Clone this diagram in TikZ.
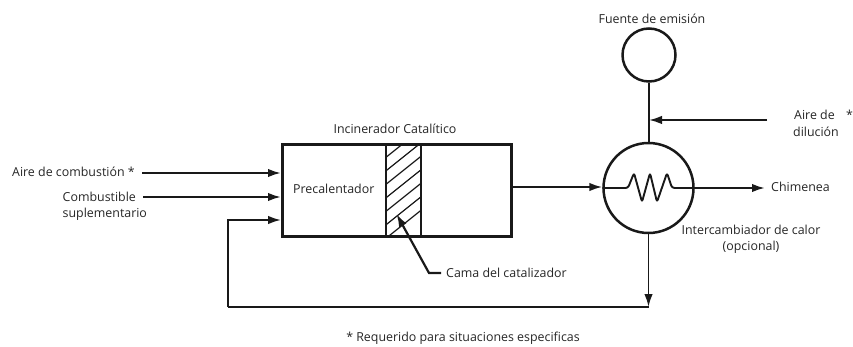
\documentclass[tikz,border=0pt]{standalone}
\usepackage{fontspec}
\setmainfont{Open Sans}
\usetikzlibrary{arrows.meta,calc}
\tikzset{
 lbl/.style={inner sep=0pt,font=\fontsize{12.4}{16}\selectfont,text=black!85,align=left},
 heavy/.style={line width=2.5pt,draw=black!90},
 flow/.style={line width=2.2pt,draw=black!90,-{Latex[length=13pt,width=8.5pt]}},
 thin flow/.style={line width=1.9pt,draw=black!90,-{Latex[length=13pt,width=8.5pt]}},
 pipe/.style={line width=1.9pt,draw=black!90},
 hatchline/.style={line width=1.2pt,draw=black!90}
}
\begin{document}
\begin{tikzpicture}[x=1pt,y=-1pt]
\useasboundingbox (0,0) rectangle (853,347);
\node[heavy,draw,rectangle,minimum width=229pt,minimum height=92pt,inner sep=0pt,anchor=north west] (box) at (281,143.5) {};
\node[circle,heavy,draw,minimum size=53pt,inner sep=0pt] (src) at (649,55) {};
\node[circle,heavy,draw,minimum size=90pt,inner sep=0pt] (hx) at (648.5,188) {};
% catalyst bed
\node[rectangle,line width=1.6pt,draw=black!90,minimum width=35pt,minimum height=92pt,inner sep=0pt,anchor=north west] (bed) at (385,143.5) {};
\begin{scope}
\clip (bed.south west) rectangle (bed.north east);
\foreach \s in {0,13.5,...,135}{
  \draw[hatchline] ($(bed.south west)+(-20,{-\s+18})$) -- ++(70,-56);
}
\end{scope}
% labels
\node[lbl,anchor=base] (t1) at (652,24) {Fuente de emisión};
\node[lbl,anchor=base] (t2) at (395,134) {Incinerador Catalítico};
\node[lbl,anchor=base west] (t3) at (293,194) {Precalentador};
\node[lbl,anchor=base west] (a1) at (12,177) {Aire de combustión *};
\node[lbl,anchor=north west] (a2) at (62.5,192) {Combustible\\suplementario};
\node[lbl,anchor=base west] (d1) at (794,120) {Aire de};
\node[lbl,anchor=base west] (d1s) at (846,120) {*};
\node[lbl,anchor=base west] (d2) at (793,137) {dilución};
\node[lbl,anchor=base west] (ch) at (771,192) {Chimenea};
\node[lbl,anchor=base] (ic) at (751,235) {Intercambiador de calor};
\node[lbl,anchor=base] (op) at (751,251) {(opcional)};
\node[lbl,anchor=base west] (cama) at (446,277) {Cama del catalizador};
\node[lbl,anchor=base] (req) at (463,341) {* Requerido para situaciones especificas};
% connector coordinates
\coordinate (c1) at (142,173);
\coordinate (c2) at (143,197);
\coordinate (c3) at (228,307);
\coordinate (c4) at (228,220);
\coordinate (c5) at (767,120);
\coordinate (c6) at (765,188);
\coordinate (c7) at (441,273);
\coordinate (c8) at (429,273);
\coordinate (c9) at (396.5,214);
% connectors
\draw[flow] (c1) -- (c1 -| box.west);
\draw[flow] (c2) -- (c2 -| box.west);
\draw[thin flow] (c3) -- (c4) -- (c4 -| box.west);
\draw[pipe] (c3) -- (c3 -| hx.south);
\draw[thin flow] (hx.south) -- (hx.south |- c3);
\draw[pipe] (src.south) -- (hx.north -| src.south);
\draw[thin flow] (c5) -- (c5 -| src.south);
\draw[thin flow] (box.east |- 0,187) -- (hx.west |- 0,187);
\draw[flow] (hx.east) -- (c6);
\draw[flow] (c7) -- (c8) -- (c9);
\draw[pipe,line join=round,rounded corners=2.5pt] (hx.west) -- (628,188) -- (634,173) -- (642,202) -- (650,173) -- (657,202) -- (667,173) -- (672,188) -- (hx.east);
\end{tikzpicture}
\end{document}
